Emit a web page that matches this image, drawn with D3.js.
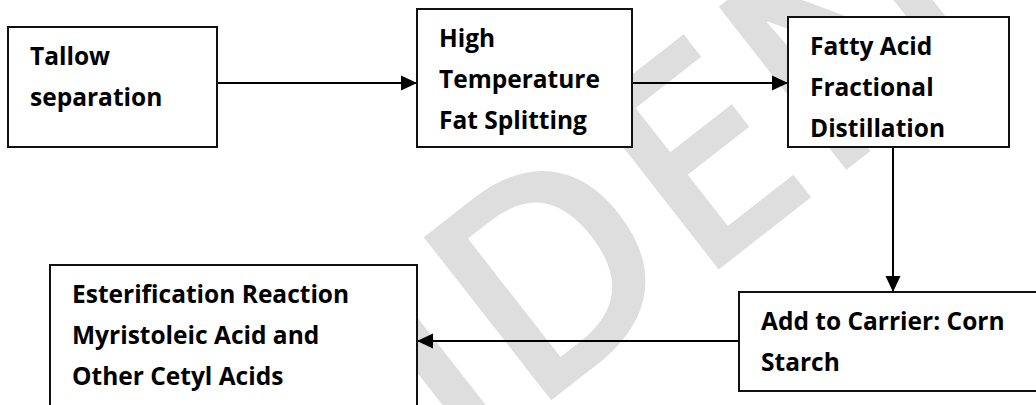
<!DOCTYPE html>
<html>
<head>
<meta charset="utf-8">
<script src="https://cdn.jsdelivr.net/npm/d3@7"></script>
<style>
  body { margin: 0; background: #fff; }
  svg { display: block; }
</style>
</head>
<body>
<svg width="1036" height="405"></svg>
<script>
// process steps, one array of text lines per box
var steps = [
  ["Tallow", "separation"],
  ["High", "Temperature", "Fat Splitting"],
  ["Fatty Acid", "Fractional", "Distillation"],
  ["Add to Carrier: Corn", "Starch"],
  ["Esterification Reaction", "Myristoleic Acid and", "Other Cetyl Acids"]
];
// which step flows into which
var links = [[0, 1], [1, 2], [2, 3], [3, 4]];
var watermark = "CONFIDENTIAL";

var svg = d3.select("svg"),
    width = +svg.attr("width"),
    height = +svg.attr("height");

// layout of the boxes (page pixels)
var boxes = [
  {x0: 8,   y0: 27,  x1: 217,  y1: 147},
  {x0: 417, y0: 9,   x1: 632,  y1: 147},
  {x0: 788, y0: 17,  x1: 1009, y1: 147},
  {x0: 739, y0: 292, x1: 1046, y1: 391},
  {x0: 50,  y0: 265, x1: 417,  y1: 420}
];
// where each connector crosses (y for horizontal, x for vertical)
var linkAt = [83, 83, 893, 341];

var pad = 22, firstLine = 38, lineStep = 41;

svg.append("defs").append("marker")
    .attr("id", "head")
    .attr("markerUnits", "userSpaceOnUse")
    .attr("viewBox", "-17 -8 18 16")
    .attr("refX", 0)
    .attr("refY", 0)
    .attr("markerWidth", 18)
    .attr("markerHeight", 16)
    .attr("orient", "auto")
  .append("path")
    .attr("d", "M0,0L-16,-7.5L-16,7.5Z")
    .attr("fill", "#000");

// watermark behind everything
svg.append("text")
    .attr("transform", "translate(592,236) rotate(-38)")
    .attr("text-anchor", "middle")
    .attr("dy", "0.36em")
    .attr("font-family", "'Open Sans', sans-serif")
    .attr("font-weight", 600)
    .attr("font-size", 290)
    .attr("fill", "#dedede")
    .text(watermark);

// connectors
svg.append("g")
  .selectAll("line")
  .data(links)
  .enter().append("line")
    .each(function(d, i) {
      var a = boxes[d[0]], b = boxes[d[1]], at = linkAt[i], el = d3.select(this);
      if (a.y1 <= b.y0) {
        el.attr("x1", at).attr("x2", at).attr("y1", a.y1).attr("y2", b.y0);
      } else if (a.x1 <= b.x0) {
        el.attr("x1", a.x1).attr("x2", b.x0).attr("y1", at).attr("y2", at);
      } else {
        el.attr("x1", a.x0).attr("x2", b.x1).attr("y1", at).attr("y2", at);
      }
    })
    .attr("stroke", "#000")
    .attr("stroke-width", 2)
    .attr("marker-end", "url(#head)");

var node = svg.append("g")
  .selectAll("g")
  .data(steps)
  .enter().append("g");

node.append("rect")
    .attr("x", function(d, i) { return boxes[i].x0; })
    .attr("y", function(d, i) { return boxes[i].y0; })
    .attr("width", function(d, i) { return boxes[i].x1 - boxes[i].x0; })
    .attr("height", function(d, i) { return boxes[i].y1 - boxes[i].y0; })
    .attr("fill", "#fff")
    .attr("stroke", "#111")
    .attr("stroke-width", 2);

node.append("text")
    .attr("font-family", "'Open Sans', sans-serif")
    .attr("font-weight", "bold")
    .attr("font-size", 24.5)
    .attr("fill", "#000")
  .selectAll("tspan")
  .data(function(d, i) { return d.map(function(t, j) { return {t: t, j: j, b: boxes[i]}; }); })
  .enter().append("tspan")
    .attr("x", function(d) { return d.b.x0 + pad; })
    .attr("y", function(d) { return d.b.y0 + firstLine + d.j * lineStep; })
    .text(function(d) { return d.t; });
</script>
</body>
</html>
